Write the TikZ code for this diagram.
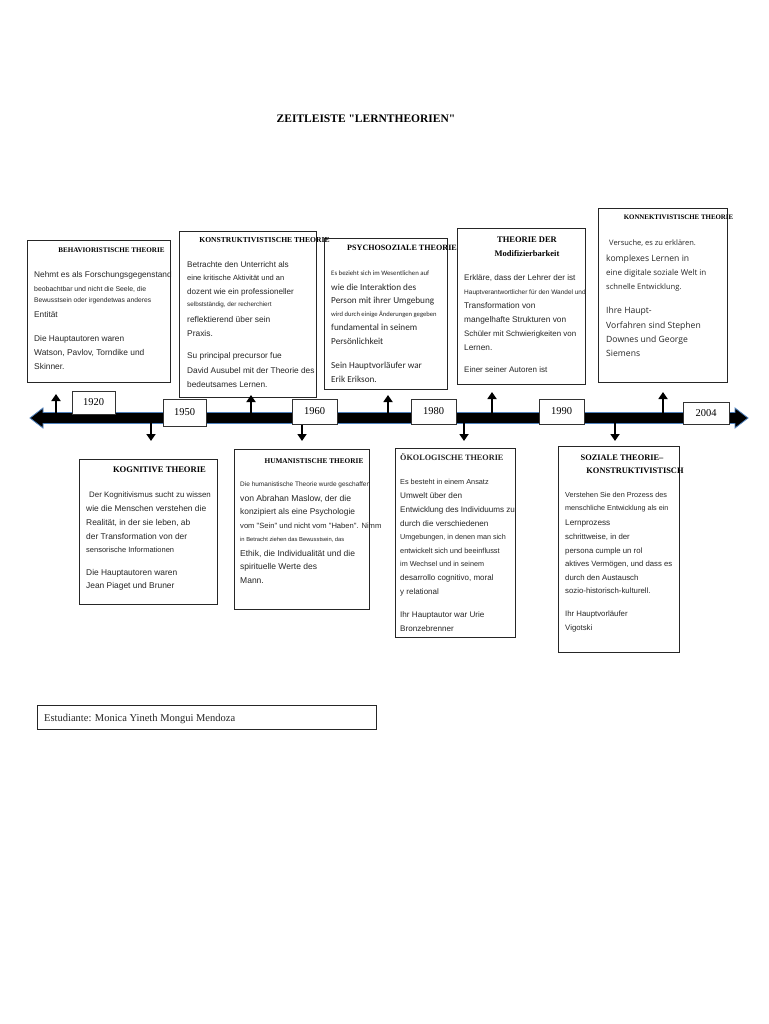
\documentclass[tikz,border=0pt]{standalone}
\usepackage{fontspec}
\setmainfont{Liberation Serif}[Ligatures=TeXOff]
\newfontfamily\arl{Liberation Sans}
\newfontfamily\carl{Carlito}
\newfontfamily\opn{Open Sans}
\usetikzlibrary{arrows.meta}
\newcommand\fsz[1]{\fontsize{#1}{#1}\selectfont}
\newcommand\tline[5]{\node[lt,font=#2] (#1) at (#3,#4) {#5};}
\newcommand\ttl[5]{\node[tt,font=#2] (#1) at (#3,#4) {#5};}
\newcommand\dq{\char"22\relax}
\definecolor{tlblue}{RGB}{79,129,189}
\tikzset{
  lt/.style={anchor=base west,inner sep=0pt,text=black!85},
  tt/.style={anchor=base,inner sep=0pt,text=black},
  box/.style={draw=black!85,line width=0.8pt,anchor=north west,inner sep=0pt},
  yr/.style={draw=black!80,line width=0.8pt,fill=white,font=\fsz{10.5},inner sep=0pt},
  varr/.style={line width=2.6pt,draw=black,-{Triangle[width=9pt,length=7pt]}}
}
\begin{document}
\begin{tikzpicture}[x=1pt,y=-1pt]
\useasboundingbox[fill=white] (0,0) rectangle (768,1024);
% title
\ttl{title}{\bfseries\fsz{11.5}}{366}{123}{ZEITLEISTE \dq LERNTHEORIEN\dq}
% timeline
\filldraw[fill=black,draw=tlblue,line width=0.8pt] (30,418) -- (43,408) -- (43,412.5) -- (735,412.5) -- (735,408) -- (748,418) -- (735,428) -- (735,423.5) -- (43,423.5) -- (43,428) -- cycle;
% boxes
\node[box,minimum width=143pt,minimum height=142pt] (b1) at (27,240) {};
\node[box,minimum width=137pt,minimum height=166pt] (b2) at (179,231) {};
\node[box,minimum width=123pt,minimum height=151pt] (b3) at (324,238) {};
\node[box,minimum width=128pt,minimum height=156pt] (b4) at (457,228) {};
\node[box,minimum width=129pt,minimum height=174pt] (b5) at (598,208) {};
\node[box,minimum width=138pt,minimum height=145pt] (b6) at (79,459) {};
\node[box,minimum width=135pt,minimum height=160pt] (b7) at (234,449) {};
\node[box,minimum width=120pt,minimum height=189pt] (b8) at (395,448) {};
\node[box,minimum width=121pt,minimum height=206pt] (b9) at (558,446) {};
\node[box,minimum width=339pt,minimum height=24pt] (st) at (37,705) {};
% arrows
\coordinate (u1) at (56,413);  \coordinate (u1e) at (56,394);
\coordinate (u2) at (251,413); \coordinate (u2e) at (251,395);
\coordinate (u3) at (388,413); \coordinate (u3e) at (388,395);
\coordinate (u4) at (492,413); \coordinate (u4e) at (492,392);
\coordinate (u5) at (663,413); \coordinate (u5e) at (663,392);
\coordinate (d1) at (151,423); \coordinate (d1e) at (151,441);
\coordinate (d2) at (302,423); \coordinate (d2e) at (302,441);
\coordinate (d3) at (464,423); \coordinate (d3e) at (464,441);
\coordinate (d4) at (615,423); \coordinate (d4e) at (615,441);
\foreach \a in {u1,u2,u3,u4,u5,d1,d2,d3,d4} {\draw[varr] (\a) -- (\a e);}
% years
\node[yr,minimum width=43pt,minimum height=23pt] (y1920) at (93.5,402.5) {1920};
\node[yr,minimum width=43pt,minimum height=27pt] (y1950) at (184.5,412.5) {1950};
\node[yr,minimum width=45pt,minimum height=25pt] (y1960) at (314.5,411.5) {1960};
\node[yr,minimum width=45pt,minimum height=25pt] (y1980) at (433.5,411.5) {1980};
\node[yr,minimum width=45pt,minimum height=25pt] (y1990) at (561.5,411.5) {1990};
\node[yr,minimum width=46pt,minimum height=22pt] (y2004) at (706,413) {2004};
% box 1
\ttl{t1}{\bfseries\fsz{7.1}}{111.5}{252}{BEHAVIORISTISCHE THEORIE}
\tline{a1}{\arl\fsz{8.3}}{34}{277}{Nehmt es als Forschungsgegenstand}
\tline{a2}{\arl\fsz{6.9}}{34}{291}{beobachtbar und nicht die Seele, die}
\tline{a3}{\arl\fsz{6.7}}{34}{302}{Bewusstsein oder irgendetwas anderes}
\tline{a4}{\arl\fsz{8.3}}{34}{317}{Entität}
\tline{a5}{\arl\fsz{8.3}}{34}{341}{Die Hauptautoren waren}
\tline{a6}{\arl\fsz{8.4}}{34}{355}{Watson, Pavlov, Torndike und}
\tline{a7}{\arl\fsz{8.4}}{34}{369}{Skinner.}
% box 2
\ttl{t2}{\bfseries\fsz{7.6}}{264.5}{243}{KONSTRUKTIVISTISCHE THEORIE}
\tline{c1}{\arl\fsz{8.2}}{187}{267}{Betrachte den Unterricht als}
\tline{c2}{\arl\fsz{7.5}}{187}{280}{eine kritische Aktivität und an}
\tline{c3}{\arl\fsz{8.1}}{187}{294}{dozent wie ein professioneller}
\tline{c4}{\arl\fsz{6.3}}{187}{306}{selbstständig, der recherchiert}
\tline{c5}{\arl\fsz{8.4}}{187}{322}{reflektierend über sein}
\tline{c6}{\arl\fsz{8.4}}{187}{336}{Praxis.}
\tline{c7}{\arl\fsz{8.3}}{187}{358}{Su principal precursor fue}
\tline{c8}{\arl\fsz{8.3}}{187}{373}{David Ausubel mit der Theorie des}
\tline{c9}{\arl\fsz{8.3}}{187}{387}{bedeutsames Lernen.}
% box 3
\ttl{t3}{\bfseries\fsz{8.1}}{402}{251}{PSYCHOSOZIALE THEORIE}
\tline{e1}{\carl\fsz{6.8}}{331}{275}{Es bezieht sich im Wesentlichen auf}
\tline{e2}{\carl\fsz{9.2}}{331}{290}{wie die Interaktion des}
\tline{e3}{\carl\fsz{9.2}}{331}{303}{Person mit ihrer Umgebung}
\tline{e4}{\carl\fsz{6.6}}{331}{316}{wird durch einige Änderungen gegeben}
\tline{e5}{\carl\fsz{9.2}}{331}{330}{fundamental in seinem}
\tline{e6}{\carl\fsz{9.2}}{331}{344}{Persönlichkeit}
\tline{e7}{\carl\fsz{9.2}}{331}{368}{Sein Hauptvorläufer war}
\tline{e8}{\carl\fsz{9.2}}{331}{382}{Erik Erikson.}
% box 4
\ttl{t4a}{\bfseries\fsz{8.5}}{527}{243}{THEORIE DER}
\ttl{t4b}{\bfseries\fsz{8.5}}{527}{256}{Modifizierbarkeit}
\tline{f1}{\arl\fsz{8.1}}{464}{280}{Erkläre, dass der Lehrer der ist}
\tline{f2}{\arl\fsz{6.5}}{464}{294}{Hauptverantwortlicher für den Wandel und}
\tline{f3}{\arl\fsz{8.3}}{464}{308}{Transformation von}
\tline{f4}{\arl\fsz{8.3}}{464}{322}{mangelhafte Strukturen von}
\tline{f5}{\arl\fsz{7.9}}{464}{336}{Schüler mit Schwierigkeiten von}
\tline{f6}{\arl\fsz{8.3}}{464}{350}{Lernen.}
\tline{f7}{\arl\fsz{8.0}}{464}{372}{Einer seiner Autoren ist}
% box 5
\ttl{t5}{\bfseries\fsz{6.9}}{678.5}{220}{KONNEKTIVISTISCHE THEORIE}
\tline{g1}{\opn\fsz{7.5}}{609}{245}{Versuche, es zu erklären.}
\tline{g2}{\opn\fsz{8.6}}{606}{261}{komplexes Lernen in}
\tline{g3}{\opn\fsz{8.0}}{606}{275}{eine digitale soziale Welt in}
\tline{g4}{\opn\fsz{7.6}}{606}{289}{schnelle Entwicklung.}
\tline{g5}{\opn\fsz{8.6}}{606}{313}{Ihre Haupt-}
\tline{g6}{\opn\fsz{8.6}}{606}{328}{Vorfahren sind Stephen}
\tline{g7}{\opn\fsz{8.6}}{606}{342}{Downes und George}
\tline{g8}{\opn\fsz{8.6}}{606}{356}{Siemens}
% box 6
\ttl{t6}{\bfseries\fsz{8.6}}{159.5}{472}{KOGNITIVE THEORIE}
\tline{h1}{\arl\fsz{7.9}}{89}{497}{Der Kognitivismus sucht zu wissen}
\tline{h2}{\arl\fsz{8.4}}{86}{511}{wie die Menschen verstehen die}
\tline{h3}{\arl\fsz{8.4}}{86}{525}{Realität, in der sie leben, ab}
\tline{h4}{\arl\fsz{8.4}}{86}{539}{der Transformation von der}
\tline{h5}{\arl\fsz{7.5}}{86}{552}{sensorische Informationen}
\tline{h6}{\arl\fsz{8.4}}{86}{575}{Die Hauptautoren waren}
\tline{h7}{\arl\fsz{8.4}}{86}{588}{Jean Piaget und Bruner}
% box 7
\ttl{t7}{\bfseries\fsz{7.3}}{314}{463}{HUMANISTISCHE THEORIE}
\tline{k1}{\arl\fsz{6.5}}{240}{486}{Die humanistische Theorie wurde geschaffen}
\tline{k2}{\arl\fsz{8.6}}{240}{501}{von Abrahan Maslow, der die}
\tline{k3}{\arl\fsz{8.4}}{240}{514}{konzipiert als eine Psychologie}
\tline{k4}{\arl\fsz{7.6}}{240}{528}{vom \dq Sein\dq{} und nicht vom \dq Haben\dq. Nimm}
\tline{k5}{\arl\fsz{5.8}}{240}{541}{in Betracht ziehen das Bewusstsein, das}
\tline{k6}{\arl\fsz{8.5}}{240}{556}{Ethik, die Individualität und die}
\tline{k7}{\arl\fsz{8.5}}{240}{569}{spirituelle Werte des}
\tline{k8}{\arl\fsz{8.5}}{240}{583}{Mann.}
% box 8
\tline{t8}{\bfseries\fsz{8.2}}{400}{460}{ÖKOLOGISCHE THEORIE}
\tline{m1}{\arl\fsz{7.3}}{400}{484}{Es besteht in einem Ansatz}
\tline{m2}{\arl\fsz{8.2}}{400}{498}{Umwelt über den}
\tline{m3}{\arl\fsz{8.1}}{400}{512}{Entwicklung des Individuums zu}
\tline{m4}{\arl\fsz{8.1}}{400}{526}{durch die verschiedenen}
\tline{m5}{\arl\fsz{7.2}}{400}{539}{Umgebungen, in denen man sich}
\tline{m6}{\arl\fsz{7.4}}{400}{553}{entwickelt sich und beeinflusst}
\tline{m7}{\arl\fsz{7.2}}{400}{566}{im Wechsel und in seinem}
\tline{m8}{\arl\fsz{8.0}}{400}{580}{desarrollo cognitivo, moral}
\tline{m9}{\arl\fsz{8.0}}{400}{594}{y relational}
\tline{m10}{\arl\fsz{8.1}}{400}{617}{Ihr Hauptautor war Urie}
\tline{m11}{\arl\fsz{8.1}}{400}{631}{Bronzebrenner}
% box 9
\ttl{t9a}{\bfseries\fsz{8.4}}{622}{460}{SOZIALE THEORIE–}
\ttl{t9b}{\bfseries\fsz{8.4}}{635}{473}{KONSTRUKTIVISTISCH}
\tline{n1}{\arl\fsz{7.3}}{565}{497}{Verstehen Sie den Prozess des}
\tline{n2}{\arl\fsz{7.2}}{565}{510}{menschliche Entwicklung als ein}
\tline{n3}{\arl\fsz{8.2}}{565}{525}{Lernprozess}
\tline{n4}{\arl\fsz{7.8}}{565}{539}{schrittweise, in der}
\tline{n5}{\arl\fsz{7.8}}{565}{553}{persona cumple un rol}
\tline{n6}{\arl\fsz{7.7}}{565}{566}{aktives Vermögen, und dass es}
\tline{n7}{\arl\fsz{7.8}}{565}{580}{durch den Austausch}
\tline{n8}{\arl\fsz{7.8}}{565}{593}{sozio-historisch-kulturell.}
\tline{n9}{\arl\fsz{7.8}}{565}{616}{Ihr Hauptvorläufer}
\tline{n10}{\arl\fsz{7.8}}{565}{630}{Vigotski}
% student
\tline{stt}{\fsz{10.5}}{44}{721}{Estudiante: Monica Yineth Mongui Mendoza}
\end{tikzpicture}
\end{document}
